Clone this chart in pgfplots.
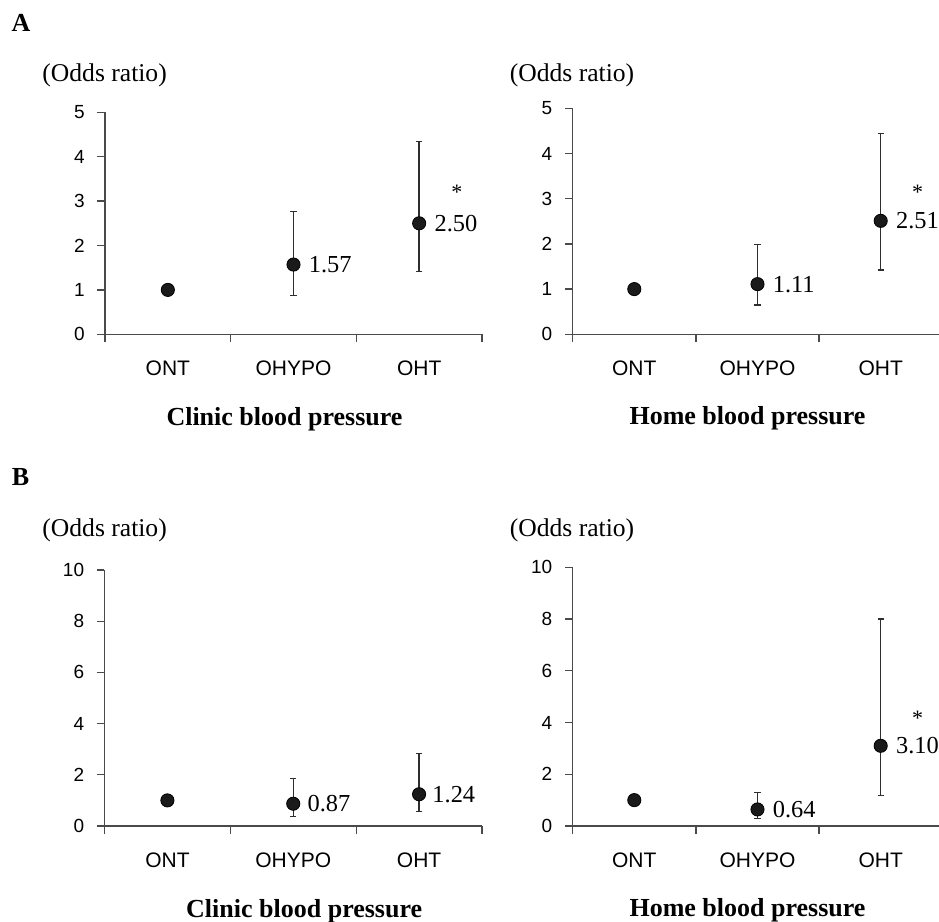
\documentclass[border=0pt]{standalone}
\usepackage{fontspec}
\setmainfont{Liberation Serif}
\newfontfamily\arialf{Liberation Sans}
\usepackage{pgfplots}
\pgfplotsset{compat=1.18}
\definecolor{axisgray}{HTML}{4A4A4A}
\definecolor{ebgray}{HTML}{2E2E2E}
\definecolor{dotblack}{HTML}{1A1A1A}
\pgfplotsset{
  orplot/.style={
    scale only axis,
    axis lines=left,
    axis line style={-, axisgray, line width=0.65pt},
    every tick/.style={axisgray, line width=0.65pt},
    tick align=outside,
    major tick length=3.8pt,
    xmin=0.5, xmax=3.5,
    xtick={0.5,1.5,2.5,3.5},
    xticklabels={ONT,OHYPO,OHT,},
    x tick label as interval,
    /pgf/number format/assume math mode=true,
    yticklabel style={font=\arialf\fontsize{9.5}{11}\selectfont, inner sep=0pt, xshift=-6.2pt},
    xticklabel style={font=\arialf\fontsize{10.5}{12}\selectfont, inner sep=0pt, anchor=north, yshift=-9.5pt},
    clip=false,
  },
  ontmark/.style={only marks, mark=*, mark size=3.3pt, mark options={fill=dotblack, draw=none}},
  cimark/.style={only marks, mark=*, mark size=3.3pt, mark options={fill=dotblack, draw=none},
    error bars/.cd, y dir=both, y explicit,
    error bar style={line width=0.7pt, ebgray},
    error mark options={rotate=90, line width=0.7pt, ebgray, mark size=1.6pt}},
}
\tikzset{
  vlab/.style={font=\fontsize{12.2}{14}\selectfont, inner sep=0pt, anchor=west, xshift=7.5pt},
  star/.style={font=\fontsize{11}{13}\selectfont, inner sep=0pt},
  oddsr/.style={font=\fontsize{12.8}{15}\selectfont, inner sep=0pt, anchor=west},
}
\begin{document}
\begin{tikzpicture}
\useasboundingbox (0,0) rectangle (469.5pt,461pt);
\node[font=\bfseries\fontsize{13}{15}\selectfont, inner sep=0pt] at (10.5pt,449.5pt) {A};
\node[font=\bfseries\fontsize{13}{15}\selectfont, inner sep=0pt] at (10.25pt,222.5pt) {B};
\node[oddsr] at (21pt,423.5pt) {(Odds ratio)};
\node[oddsr] at (254.7pt,423.5pt) {(Odds ratio)};
\node[oddsr] at (21pt,195.6pt) {(Odds ratio)};
\node[oddsr] at (254.7pt,195.6pt) {(Odds ratio)};
\node[font=\bfseries\fontsize{13}{15}\selectfont, inner sep=0pt, anchor=base] at (142.25pt,248pt) {Clinic blood pressure};
\node[font=\bfseries\fontsize{13}{15}\selectfont, inner sep=0pt, anchor=base] at (373.75pt,248.5pt) {Home blood pressure};
\node[font=\bfseries\fontsize{13}{15}\selectfont, inner sep=0pt, anchor=base] at (152.1pt,2.4pt) {Clinic blood pressure};
\node[font=\bfseries\fontsize{13}{15}\selectfont, inner sep=0pt, anchor=base] at (373.75pt,2.7pt) {Home blood pressure};

% A left
\begin{axis}[orplot, at={(52.5pt,293.85pt)}, anchor=south west, width=188.5pt, height=111pt,
  ymin=0, ymax=5, ytick={0,1,2,3,4,5}]
\addplot[ontmark] coordinates {(1,1)};
\addplot[cimark] table[x=x, y=y, y error plus=ep, y error minus=em] {
x y ep em
2 1.57 1.19 0.70
3 2.50 1.84 1.08
};
\node[vlab] at (axis cs:2,1.57) {1.57};
\node[vlab] at (axis cs:3,2.50) {2.50};
\node[star] at (axis cs:3.30,3.20) {*};
\end{axis}

% A right
\begin{axis}[orplot, at={(286.35pt,293.85pt)}, anchor=south west, width=184.8pt, height=113pt,
  ymin=0, ymax=5, ytick={0,1,2,3,4,5}]
\addplot[ontmark] coordinates {(1,1)};
\addplot[cimark] table[x=x, y=y, y error plus=ep, y error minus=em] {
x y ep em
2 1.11 0.87 0.46
3 2.51 1.93 1.09
};
\node[vlab] at (axis cs:2,1.11) {1.11};
\node[vlab] at (axis cs:3,2.51) {2.51};
\node[star] at (axis cs:3.30,3.15) {*};
\end{axis}

% B left
\begin{axis}[orplot, at={(52.25pt,48pt)}, anchor=south west, width=188.75pt, height=128pt,
  ymin=0, ymax=10, ytick={0,2,4,6,8,10}]
\addplot[ontmark] coordinates {(1,1)};
\addplot[cimark] table[x=x, y=y, y error plus=ep, y error minus=em] {
x y ep em
2 0.87 0.99 0.51
3 1.24 1.60 0.68
};
\node[vlab, xshift=-0.5pt] at (axis cs:2,0.87) {0.87};
\node[vlab, xshift=-1pt] at (axis cs:3,1.24) {1.24};
\end{axis}

% B right
\begin{axis}[orplot, at={(286.35pt,48pt)}, anchor=south west, width=184.8pt, height=129.35pt,
  ymin=0, ymax=10, ytick={0,2,4,6,8,10}]
\addplot[ontmark] coordinates {(1,1)};
\addplot[cimark] table[x=x, y=y, y error plus=ep, y error minus=em] {
x y ep em
2 0.64 0.65 0.34
3 3.10 4.90 1.93
};
\node[vlab] at (axis cs:2,0.64) {0.64};
\node[vlab] at (axis cs:3,3.10) {3.10};
\node[star] at (axis cs:3.30,4.15) {*};
\end{axis}
\end{tikzpicture}
\end{document}
